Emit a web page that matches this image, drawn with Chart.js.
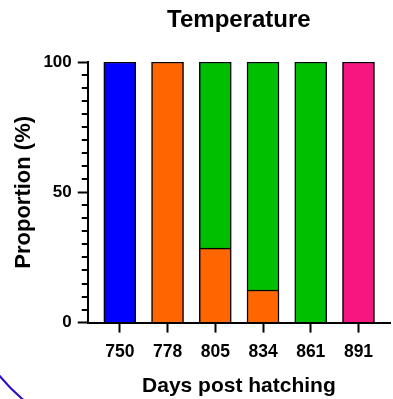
<!DOCTYPE html>
<html>
<head>
<meta charset="utf-8">
<script src="https://cdn.jsdelivr.net/npm/chart.js@4.4.1/dist/chart.umd.min.js"></script>
<style>
  html, body { margin: 0; padding: 0; background: #fff; }
  #wrap { width: 393px; height: 399px; }
</style>
</head>
<body>
<div id="wrap"><canvas id="chart"></canvas></div>
<script>
// Days post hatching (one bar each)
const days = ['750', '778', '805', '834', '861', '891'];

// Proportion (%) per group, stacked
const blueVals   = [100, null, null, null, null, null];
const orangeVals = [null, 100, 28.6, 12.5, null, null];
const greenVals  = [null, null, 71.4, 87.5, 100, null];
const pinkVals   = [null, null, null, null, null, 100];

const yMajor = [0, 50, 100];
const yMinorStep = 5;

const FONT = "'Liberation Sans', Arial, sans-serif";

function toPoints(vals) {
    return vals.map((v, i) => ({ x: i, y: v }));
}

function barSet(vals, color) {
    return {
        data: toPoints(vals),
        backgroundColor: color,
        borderColor: '#000',
        borderWidth: 1.5,
        borderSkipped: 'bottom',
        barThickness: 32
    };
}

// short minor ticks on the y axis
const minorTicks = {
    id: 'minorTicks',
    afterDraw(chart) {
        const y = chart.scales.y;
        const ctx = chart.ctx;
        ctx.save();
        ctx.strokeStyle = '#000';
        ctx.lineWidth = 2;
        for (let v = 0; v <= 100; v += yMinorStep) {
            if (yMajor.includes(v)) continue;
            const py = Math.round(y.getPixelForValue(v));
            ctx.beginPath();
            ctx.moveTo(y.right - 6, py);
            ctx.lineTo(y.right, py);
            ctx.stroke();
        }
        ctx.restore();
    }
};

// stray arc in the lower left corner
const cornerArc = {
    id: 'cornerArc',
    afterDraw(chart) {
        const ctx = chart.ctx;
        ctx.save();
        ctx.strokeStyle = '#2a10c8';
        ctx.lineWidth = 2;
        ctx.beginPath();
        ctx.arc(150, 250, 196, Math.PI * 0.62, Math.PI * 0.82);
        ctx.stroke();
        ctx.restore();
    }
};

new Chart(document.getElementById('chart'), {
    type: 'bar',
    data: {
        datasets: [
            barSet(blueVals, '#0000ff'),
            barSet(orangeVals, '#ff6600'),
            barSet(greenVals, '#00bf00'),
            barSet(pinkVals, '#f5167f')
        ]
    },
    options: {
        responsive: true,
        maintainAspectRatio: false,
        animation: false,
        layout: { padding: { top: 0, right: 3, bottom: 0, left: 0 } },
        plugins: {
            legend: { display: false },
            tooltip: { enabled: false },
            title: {
                display: true,
                fullSize: false,
                text: 'Temperature',
                color: '#000',
                font: { family: FONT, size: 24, weight: 'bold' },
                padding: { top: 5.6, bottom: 27.6 }
            }
        },
        scales: {
            x: {
                type: 'linear',
                stacked: true,
                offset: false,
                min: -0.671,
                max: 5.66,
                afterBuildTicks: s => { s.ticks = days.map((d, i) => ({ value: i })); },
                ticks: {
                    callback: v => days[v],
                    color: '#000',
                    font: { family: FONT, size: 17.5, weight: 'bold' },
                    padding: 9,
                    maxRotation: 0,
                    autoSkip: false
                },
                grid: { offset: false, drawOnChartArea: false, tickLength: 10, tickWidth: 2, tickColor: '#000' },
                border: { color: '#000', width: 2 },
                title: {
                    display: true,
                    text: 'Days post hatching',
                    color: '#000',
                    font: { family: FONT, size: 21, weight: 'bold' },
                    padding: { top: 2.2, bottom: 0 }
                }
            },
            y: {
                stacked: true,
                min: 0,
                max: 100,
                afterBuildTicks: s => { s.ticks = yMajor.map(v => ({ value: v })); },
                ticks: {
                    color: '#000',
                    font: { family: FONT, size: 17, weight: 'bold' },
                    padding: 6
                },
                grid: { drawOnChartArea: false, tickLength: 10, tickWidth: 2, tickColor: '#000' },
                border: { color: '#000', width: 2 },
                title: {
                    display: true,
                    text: 'Proportion (%)',
                    color: '#000',
                    font: { family: FONT, size: 22, weight: 'bold' },
                    padding: { top: 11, bottom: 0 }
                }
            }
        }
    },
    plugins: [minorTicks, cornerArc]
});
</script>
</body>
</html>
